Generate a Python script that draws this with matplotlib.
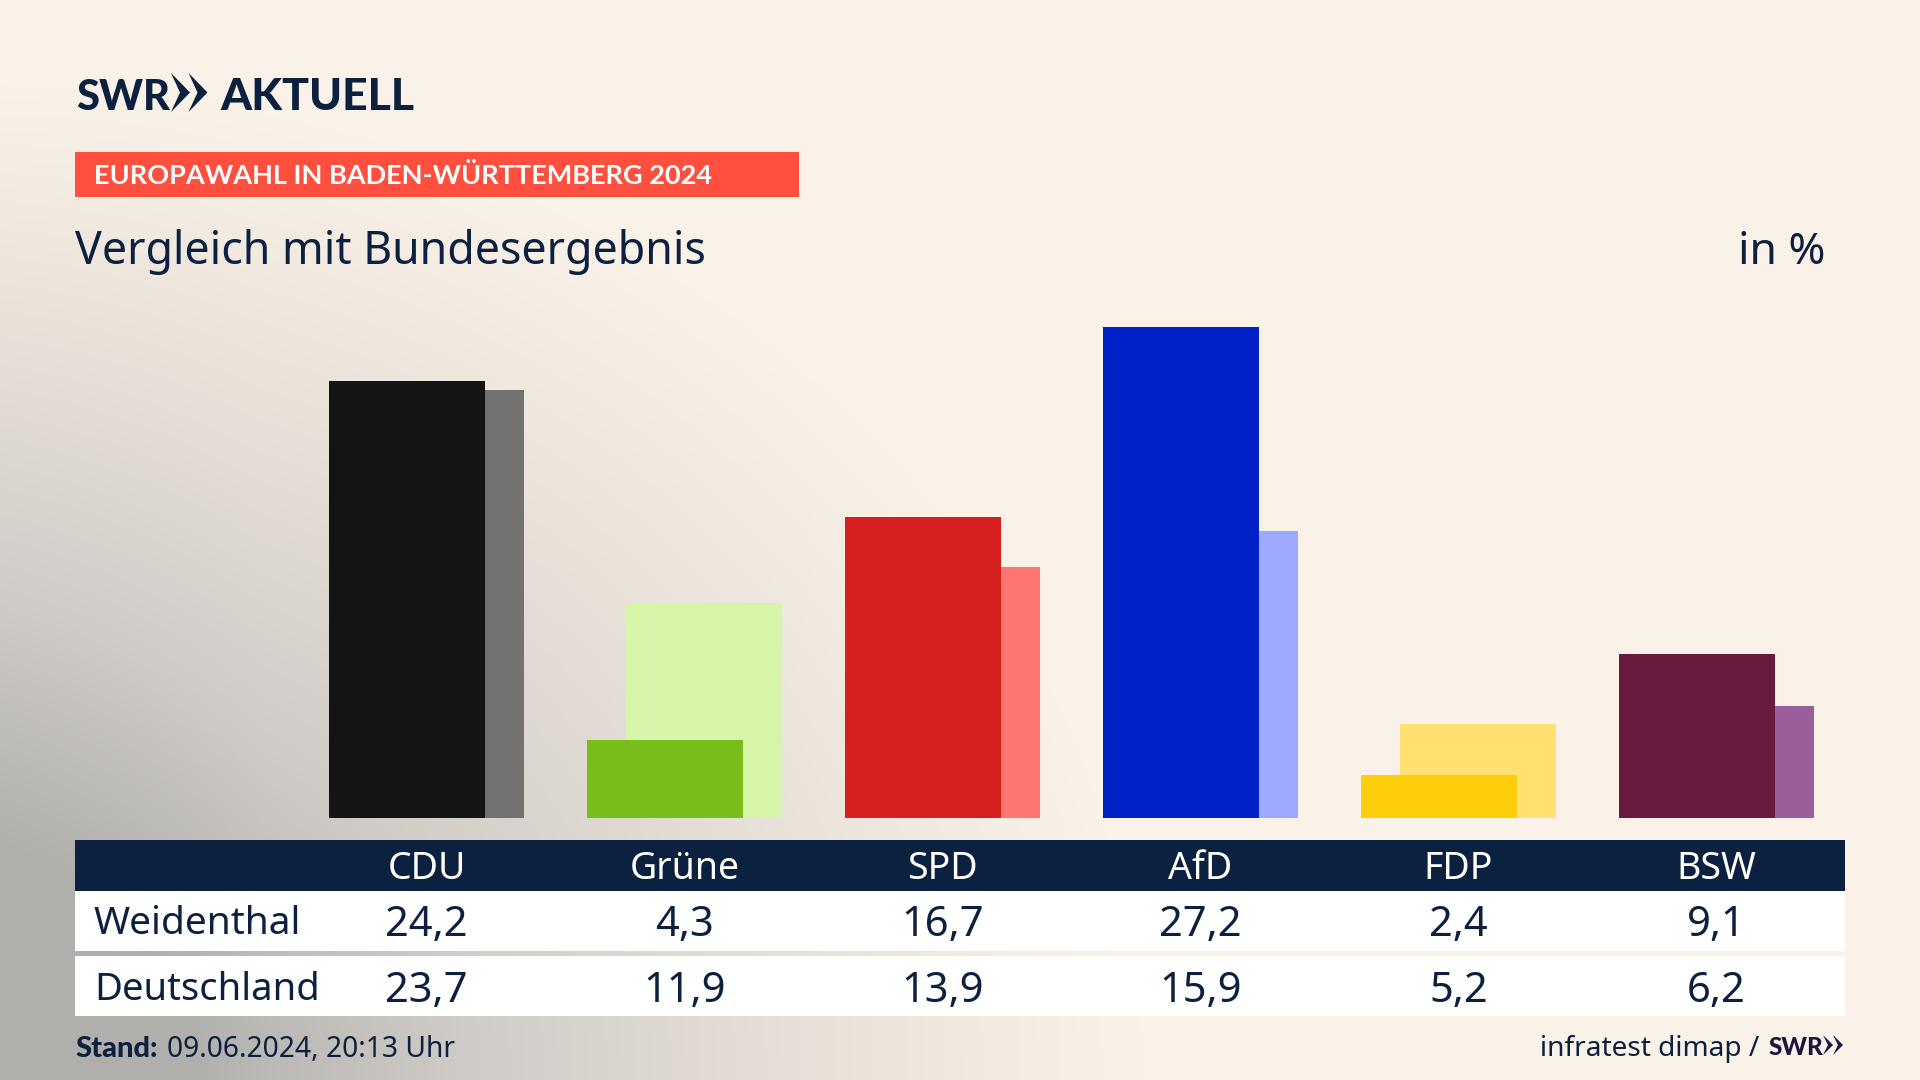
import numpy as np
import matplotlib
matplotlib.use("Agg")
import matplotlib.pyplot as plt
from matplotlib.patches import Rectangle, Polygon
from matplotlib.colors import LinearSegmentedColormap

# data
parties = ["CDU", "Grüne", "SPD", "AfD", "FDP", "BSW"]
weidenthal = [24.2, 4.3, 16.7, 27.2, 2.4, 9.1]
deutschland = [23.7, 11.9, 13.9, 15.9, 5.2, 6.2]
colors_dark = ["#141414", "#78BE1A", "#D81F1F", "#0021C8", "#FFCE0A", "#6B1A3F"]
colors_light = ["#737270", "#D6F5A8", "#FF7570", "#9EAAFF", "#FFE070", "#9A5F9A"]
row_labels = ["Weidenthal", "Deutschland"]

NAVY = "#0C203F"
plt.rcParams["font.family"] = ["Noto Sans", "DejaVu Sans"]
HEAVY = ["Lato", "DejaVu Sans"]

fig = plt.figure(figsize=(19.2, 10.8), dpi=100)

# background gradient
bg = fig.add_axes([0, 0, 1, 1], zorder=0)
bg.axis("off")
yy, xx = np.mgrid[0:1080:270j, 0:1920:480j]
d1 = np.sqrt((xx / 1150) ** 2 + ((1080 - yy) / 1000) ** 2)
t = np.clip(1 - d1, 0, 1) ** 1.1
d2 = np.clip(1 - xx / 260, 0, 1) * np.clip(1 - ((1080 - yy) / 1000) ** 2, 0, 1)
t = np.clip(t + 0.10 * d2, 0, 1)
cmap = LinearSegmentedColormap.from_list("bg", ["#FAF2E8", "#E6DFD7", "#CFCBC6", "#B0AFAC"])
bg.imshow(t, cmap=cmap, vmin=0, vmax=0.85, extent=[0, 1920, 1080, 0], aspect="auto")

# overlay in pixel coordinates
ov = fig.add_axes([0, 0, 1, 1], zorder=1)
ov.set_xlim(0, 1920)
ov.set_ylim(1080, 0)
ov.axis("off")
ov.patch.set_alpha(0)

# bars
PITCH, X0, BASE, PXU = 258.0, 426.6, 818.0, 18.05
ax = fig.add_axes([0, (1080 - BASE) / 1080, 1, 518 / 1080], zorder=2)
ax.patch.set_alpha(0)
ax.axis("off")
ax.set_xlim(-X0 / PITCH, (1920 - X0) / PITCH)
ax.set_ylim(0, 518 / PXU)
xs = np.arange(len(parties))
W = 156.6 / PITCH
OFF = 39 / PITCH
ax.bar(xs + OFF / 2, deutschland, width=W, color=colors_light, zorder=1)
ax.bar(xs - OFF / 2, weidenthal, width=W, color=colors_dark, zorder=2)

# logo
ov.text(76, 109.5, "SWR", fontsize=30, fontweight="black", family=HEAVY, color=NAVY, va="baseline", ha="left")
for dx in (0, 17.5):
    ov.add_patch(Polygon([[171 + dx, 73], [190 + dx, 92.5], [171 + dx, 112], [180 + dx, 92.5]],
                         closed=True, color=NAVY, lw=0))
ov.text(220, 109.5, "AKTUELL", fontsize=32, fontweight="black", family=HEAVY, color=NAVY, va="baseline", ha="left")

# kicker
ov.add_patch(Rectangle((75, 152), 724, 45, color="#FF4F3E", lw=0))
ov.text(94, 184, "EUROPAWAHL IN BADEN-WÜRTTEMBERG 2024", fontsize=19.5, fontweight="bold", family=HEAVY,
        color="white", va="baseline", ha="left")

# title
ov.text(75, 264, "Vergleich mit Bundesergebnis", fontsize=32.2, color=NAVY, va="baseline", ha="left")
ov.text(1825, 264, "in %", fontsize=32, color=NAVY, va="baseline", ha="right")

# table
ov.add_patch(Rectangle((75, 840), 1770, 51, color=NAVY, lw=0))
ov.add_patch(Rectangle((75, 891), 1770, 60, color="white", lw=0))
ov.add_patch(Rectangle((75, 956), 1770, 60, color="white", lw=0))
for i, p in enumerate(parties):
    cx = 426.5 + i * PITCH
    ov.text(cx, 879, p, fontsize=27, color="white", ha="center", va="baseline")
    ov.text(cx, 936, f"{weidenthal[i]:.1f}".replace(".", ","), fontsize=30, color=NAVY, ha="center", va="baseline")
    ov.text(cx, 1002, f"{deutschland[i]:.1f}".replace(".", ","), fontsize=30, color=NAVY, ha="center", va="baseline")
ov.text(94, 933.5, row_labels[0], fontsize=28, color=NAVY, ha="left", va="baseline")
ov.text(94, 999.5, row_labels[1], fontsize=27.5, color=NAVY, ha="left", va="baseline")

# footer
ov.text(75, 1057, "Stand:", fontsize=21, fontweight="black", family=HEAVY, color=NAVY, ha="left", va="baseline")
ov.text(167, 1057, "09.06.2024, 20:13 Uhr", fontsize=20.3, color=NAVY, ha="left", va="baseline")
ov.text(1759, 1056, "infratest dimap /", fontsize=20.2, color=NAVY, ha="right", va="baseline")
ov.text(1769, 1055, "SWR", fontsize=17.5, fontweight="black", family=HEAVY, color="#21123F", ha="left", va="baseline")
for dx in (0, 10):
    ov.add_patch(Polygon([[1823 + dx, 1035], [1833 + dx, 1045], [1823 + dx, 1055], [1828 + dx, 1045]],
                         closed=True, color="#21123F", lw=0))

fig.savefig("out.png", dpi=100)
